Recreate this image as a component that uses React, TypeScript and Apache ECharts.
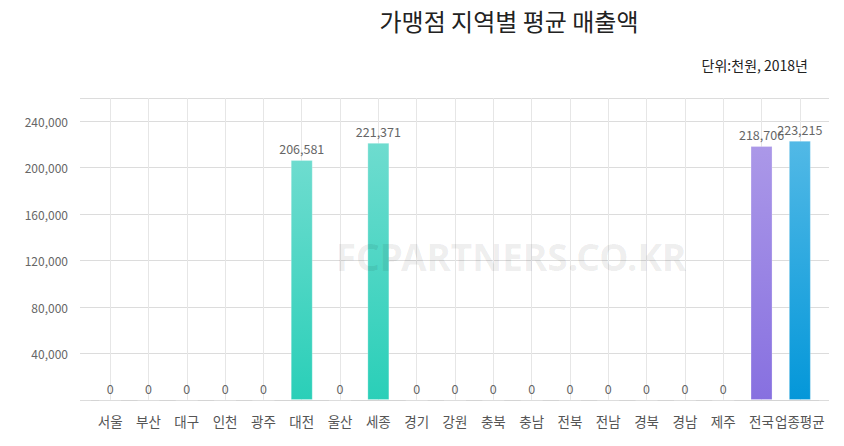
import React, { useEffect, useRef } from "react";
import * as echarts from "echarts";

const categories = ["서울", "부산", "대구", "인천", "광주", "대전", "울산", "세종", "경기", "강원", "충북", "충남", "전북", "전남", "경북", "경남", "제주", "전국", "업종평균"];
const values = [0, 0, 0, 0, 0, 206581, 0, 221371, 0, 0, 0, 0, 0, 0, 0, 0, 0, 218706, 223215];
const yTicks = { min: 0, max: 260000, interval: 40000 };

const FONT = "'Noto Sans CJK KR', 'Noto Sans', sans-serif";

const grad = (top: string, bottom: string) =>
  new echarts.graphic.LinearGradient(0, 0, 0, 1, [
    { offset: 0, color: top },
    { offset: 1, color: bottom },
  ]);

function barColor(i: number) {
  const c = categories[i];
  if (c === "전국") return grad("#ab98e8", "#8770e0");
  if (c === "업종평균") return grad("#52b9e6", "#0497d9");
  return grad("#6edccf", "#2acfb8");
}

export default function App() {
  const ref = useRef<HTMLDivElement>(null);
  useEffect(() => {
    const chart = echarts.init(ref.current!, null, { renderer: "svg" });
    chart.setOption({
      animation: false,
      textStyle: { fontFamily: FONT },
      title: {
        text: "가맹점 지역별 평균 매출액",
        left: 504,
        top: 3,
        textAlign: "center",
        textStyle: { fontSize: 24, fontWeight: "normal", color: "#222", fontFamily: FONT },
      },
      graphic: [
        {
          type: "text",
          right: 36,
          top: 58,
          style: { text: "단위:천원, 2018년", fontSize: 14, fill: "#222", fontFamily: FONT },
        },
        {
          type: "text",
          x: 511,
          y: 256,
          z: 100,
          style: {
            text: "FCPARTNERS.CO.KR",
            fontSize: 37,
            fontWeight: "bold",
            fill: "rgba(0,0,0,0.075)",
            fontFamily: "'Noto Sans', sans-serif",
            align: "center",
            verticalAlign: "middle",
          },
        },
      ],
      grid: { left: 91, right: 25, top: 98, bottom: 46, containLabel: false },
      xAxis: {
        type: "category",
        data: categories,
        axisLine: { show: true, lineStyle: { color: "#d4d4d4" } },
        axisTick: { show: false },
        axisLabel: { interval: 0, margin: 14, fontSize: 13.5, color: "#555", fontFamily: FONT },
        splitLine: { show: true, interval: 0, alignWithLabel: true, lineStyle: { color: "#e6e6e6" } },
      },
      yAxis: [
        {
          type: "value",
          min: yTicks.min,
          max: yTicks.max,
          interval: yTicks.interval,
          axisLine: { show: false },
          axisTick: { show: true, length: 11, lineStyle: { color: "#dcdcdc" } },
          axisLabel: {
            margin: 23,
            fontSize: 12,
            color: "#666",
            fontFamily: FONT,
            formatter: (v: number) => (v === 0 || v === yTicks.max ? "" : v.toLocaleString("en-US")),
          },
          splitLine: { show: true, lineStyle: { color: "#dcdcdc" } },
        },
        {
          type: "value",
          position: "right",
          min: yTicks.min,
          max: yTicks.max,
          interval: yTicks.interval,
          axisLine: { show: false },
          axisTick: { show: true, length: 10, lineStyle: { color: "#dcdcdc" } },
          axisLabel: { show: false },
          splitLine: { show: false },
        },
      ],
      series: [
        {
          type: "bar",
          barWidth: 22,
          data: values.map((v, i) => ({
            value: v,
            itemStyle: { color: barColor(i), borderColor: "rgba(255,255,255,0.25)", borderWidth: 1 },
          })),
          label: {
            show: true,
            position: "top",
            distance: 5,
            fontSize: 12.5,
            color: "#666",
            fontFamily: FONT,
            formatter: (p: any) => Number(p.value).toLocaleString("en-US"),
          },
        },
      ],
    });
    return () => chart.dispose();
  }, []);
  return <div ref={ref} style={{ position: "absolute", left: 0, top: 0, width: 844, height: 446 }} />;
}
